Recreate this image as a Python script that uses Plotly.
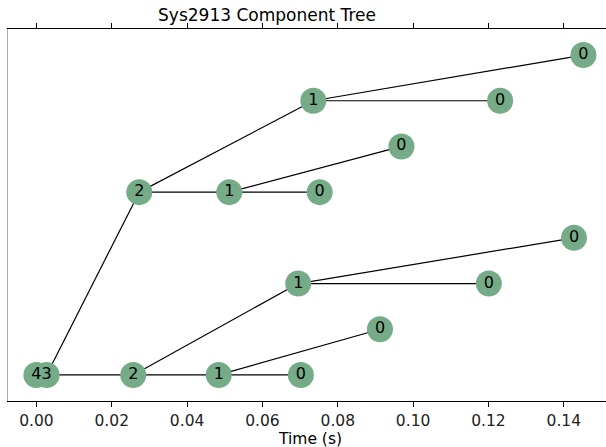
import plotly.graph_objects as go

# Node data (time in seconds, vertical level, label)
node_ids = ["a", "b", "c", "d", "e", "f", "g", "h", "i", "j", "k", "l", "m", "n", "o", "p"]
node_time = [0.0, 0.0027, 0.0257, 0.0484, 0.0702, 0.0912, 0.0695, 0.1201, 0.1427,
             0.0273, 0.0512, 0.0752, 0.0969, 0.0735, 0.1231, 0.1452]
node_level = [0, 0, 0, 0, 0, 1, 2, 2, 3, 4, 4, 4, 5, 6, 6, 7]
node_label = ["4", "3", "2", "1", "0", "0", "1", "0", "0", "2", "1", "0", "0", "1", "0", "0"]

# Edges (parent -> child)
edge_src = ["a", "b", "b", "c", "c", "d", "d", "g", "g", "j", "j", "k", "k", "n", "n"]
edge_dst = ["b", "c", "j", "d", "g", "e", "f", "h", "i", "k", "n", "l", "m", "o", "p"]

x_ticks = [0.00, 0.02, 0.04, 0.06, 0.08, 0.10, 0.12, 0.14]
x_tick_labels = ["0.00", "0.02", "0.04", "0.06", "0.08", "0.10", "0.12", "0.14"]

pos = {nid: (node_time[i], node_level[i]) for i, nid in enumerate(node_ids)}

ex, ey = [], []
for s, d in zip(edge_src, edge_dst):
    ex += [pos[s][0], pos[d][0], None]
    ey += [pos[s][1], pos[d][1], None]

FONT = "DejaVu Sans"
fig = go.Figure()
fig.add_trace(go.Scatter(x=ex, y=ey, mode="lines",
                         line=dict(color="black", width=1.2),
                         hoverinfo="skip", showlegend=False))
fig.add_trace(go.Scatter(x=node_time, y=node_level, mode="markers+text",
                         marker=dict(size=26, color="#75ab87", line=dict(width=0)),
                         text=node_label, textposition="middle center",
                         textfont=dict(family=FONT, size=16, color="black"),
                         showlegend=False))

fig.update_layout(
    width=606, height=447,
    margin=dict(l=8, r=0, t=29, b=46, autoexpand=False),
    plot_bgcolor="white", paper_bgcolor="white",
    font=dict(family=FONT, color="black"),
    title=dict(text="Sys2913 Component Tree", x=267 / 606, xref="container",
               xanchor="center", y=1 - 15 / 447, yref="container", yanchor="middle",
               font=dict(family=FONT, size=17, color="black")),
    xaxis=dict(range=[-0.00754, 0.1512], tickvals=x_ticks, ticktext=x_tick_labels,
               ticks="outside", ticklen=5, tickwidth=1, tickcolor="black",
               showline=True, linecolor="black", linewidth=1, mirror="ticks",
               showgrid=False, zeroline=False, automargin=False,
               tickfont=dict(family=FONT, size=15.5, color="#222")),
    yaxis=dict(range=[-0.57, 7.57], showticklabels=False, ticks="",
               showline=True, linecolor="#aaaaaa", linewidth=1,
               showgrid=False, zeroline=False, automargin=False),
    annotations=[dict(text="Time (s)", xref="paper", yref="paper",
                      x=(310 - 8) / 598, y=-(439 - 401) / 372,
                      xanchor="center", yanchor="middle", showarrow=False,
                      font=dict(family=FONT, size=15.5, color="black"))],
)

fig.write_html("out.html", config={"displayModeBar": False},
               post_script="document.body.style.margin='0px';document.body.style.overflow='hidden';")
